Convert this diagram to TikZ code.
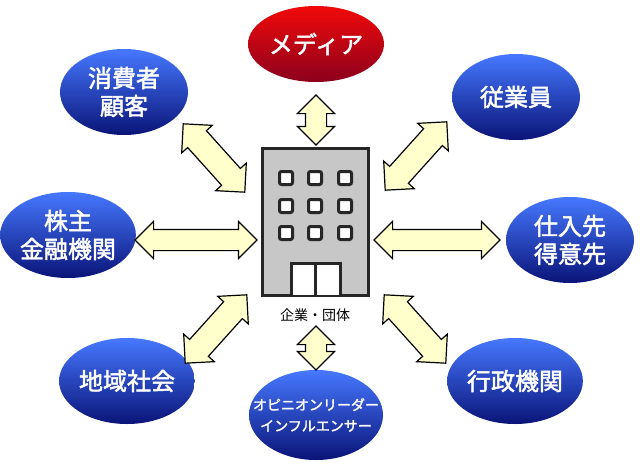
\documentclass[tikz,border=0pt]{standalone}
\usepackage{fontspec}
\newfontfamily\cjk{Noto Sans CJK JP}
\newfontfamily\cjkb{Noto Sans CJK JP}[FakeBold=2]
\usetikzlibrary{shapes.geometric,shapes.arrows}
\definecolor{ltop}{RGB}{70,120,255}
\definecolor{lbot}{RGB}{10,20,120}
\definecolor{rtop}{RGB}{240,10,10}
\definecolor{rbot}{RGB}{140,0,30}
\definecolor{arrfill}{RGB}{255,255,204}
\tikzset{
 party/.style={ellipse,minimum width=128pt,minimum height=86pt,inner sep=0pt,top color=ltop,bottom color=lbot,text=white,font=\cjkb\fontsize{24}{28}\selectfont,align=center},
 media/.style={party,top color=rtop,bottom color=rbot,minimum width=136pt,minimum height=76pt},
 link/.style={double arrow,draw=black,line width=1.2pt,fill=arrfill,inner xsep=0pt,inner ysep=10pt,double arrow head extend=8pt},
 win/.style={draw=black!85,line width=3pt,fill=white,minimum size=13pt,rounded corners=2pt,inner sep=0pt}
}
\begin{document}
\begin{tikzpicture}[x=1pt,y=-1pt]
\useasboundingbox (0,0) rectangle (640,471);
\node[media] (med) at (316,44) {メディア};
\node[party] (cons) at (124,92) {消費者\\顧客};
\node[party] (emp) at (516,97) {従業員};
\node[party] (share) at (68,235) {株主\\金融機関};
\node[party] (supp) at (570,240) {仕入先\\得意先};
\node[party] (comm) at (127,381) {地域社会};
\node[party] (gov) at (515,381) {行政機関};
\node[party,minimum width=134pt,minimum height=90pt] (op) at (316,415) {};
\node[text=white,align=center,font=\cjkb\fontsize{14}{21}\selectfont] (opt) at (op.center) {オピニオンリーダー\\インフルエンサー};
% building
\draw[line width=3pt,draw=black!85,fill=black!22] (262,148) rectangle (368,295);
\node (bld) at (315,221) {};
\foreach \x in {286,315,345}
 \foreach \y in {178,206,233}
  \node[win] at (\x,\y) {};
\draw[line width=3pt,draw=black!85,fill=white] (291,295) -- (291,263) -- (340,263) -- (340,295);
\draw[line width=3pt,draw=black!85] (315.5,263) -- (315.5,295);
\node[font=\cjk\fontsize{14}{16}\selectfont] (lbl) at (315,315) {企業・団体};
% arrows
\node[link,minimum height=50pt,rotate=90] (a1) at (316,120) {};
\node[link,minimum height=44pt,rotate=90] (a2) at (316,348) {};
\node[link,minimum height=122pt] (a3) at (196,240) {};
\node[link,minimum height=126pt] (a4) at (437,240) {};
\node[link,minimum height=92pt,rotate=-48,inner ysep=12pt] (a5) at (214,158) {};
\node[link,minimum height=92pt,rotate=48,inner ysep=12pt] (a6) at (416,156) {};
\node[link,minimum height=92pt,rotate=48,inner ysep=12pt] (a7) at (216,329) {};
\node[link,minimum height=92pt,rotate=-48,inner ysep=12pt] (a8) at (415,329) {};
\end{tikzpicture}
\end{document}
